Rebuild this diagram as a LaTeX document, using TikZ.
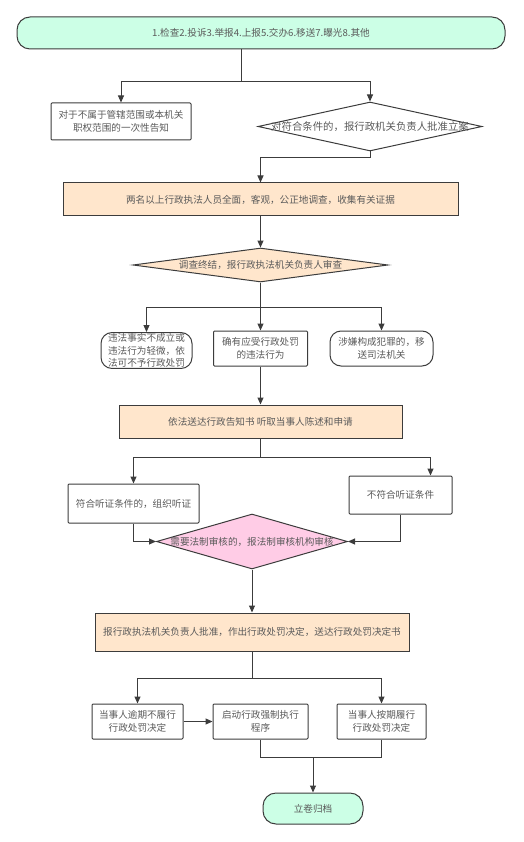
\documentclass[tikz,border=0pt]{standalone}
\usepackage{fontspec}
\setmainfont{Noto Sans CJK SC}
\usetikzlibrary{shapes.geometric,arrows.meta}
\definecolor{mint}{RGB}{204,255,230}
\definecolor{peach}{RGB}{255,230,204}
\definecolor{pinkfill}{RGB}{255,204,230}
\definecolor{edge}{RGB}{60,60,60}
\definecolor{txt}{RGB}{90,90,90}

\begin{document}
\begin{tikzpicture}[x=1pt, y=-1pt, >={Triangle[length=7pt,width=6pt]}, line width=1pt, draw=edge,
    every node/.style={font=\fontsize{9.6}{12.5}\selectfont, text=txt, align=center, inner sep=1pt},
    dims/.style 2 args={minimum width=#1pt, minimum height=#2pt},
    terminal/.style={draw, fill=mint, rounded corners=13pt},
    process/.style={draw, fill=peach},
    plain/.style={draw, fill=white, rounded corners=1pt},
    soft/.style={draw, fill=white, rounded corners=11pt},
    decision/.style={draw, diamond, inner sep=0pt}]
    \useasboundingbox (0,0) rectangle (523,842);

    % Sources of a case
    \node[terminal, dims={488}{32}] (src) at (261,33) {1.检查2.投诉3.举报4.上报5.交办6.移送7.曝光8.其他};
    % Outside jurisdiction
    \node[plain, dims={140}{37}] (notice) at (121,121.5) {对于不属于管辖范围或本机关\\职权范围的一次性告知};
    % Filing a case
    \node[decision, dims={224}{49}, font=\fontsize{10.4}{12}\selectfont] (approve) at (370,126.5) {\makebox[0pt]{对符合条件的，报行政机关负责人批准立案}};
    % Investigation
    \node[process, dims={395}{33}] (invest) at (260.5,199.5) {两名以上行政执法人员全面，客观，公正地调查，收集有关证据};
    % Review after investigation
    \node[decision, fill=peach, dims={255}{34}] (review) at (260.5,265) {\makebox[0pt]{调查终结，报行政执法机关负责人审查}};
    % Three outcomes
    \node[soft, dims={91}{35}] (nopen) at (146.5,350.5) {违法事实不成立或\\违法行为轻微，依\\法可不予行政处罚};
    \node[plain, dims={94}{35}] (pen) at (260.5,348.5) {确有应受行政处罚\\的违法行为};
    \node[soft, dims={103}{35}] (crime) at (381.5,348.5) {涉嫌构成犯罪的，移\\送司法机关};
    % Notification
    \node[process, dims={283}{33}] (inform) at (260.5,421.5) {依法送达行政告知书 听取当事人陈述和申请};
    % Hearing or not
    \node[plain, dims={131}{39}] (hear) at (133.5,503.5) {符合听证条件的，组织听证};
    \node[plain, dims={103}{38}] (nohear) at (400.5,495) {不符合听证条件};
    % Legal review
    \node[decision, fill=pinkfill, dims={191}{55}] (legal) at (252,541.5) {\makebox[0pt]{需要法制审核的，报法制审核机构审核}};
    % Decision
    \node[process, dims={314}{38}] (decide) at (252,632) {报行政执法机关负责人批准，作出行政处罚决定，送达行政处罚决定书};
    % Execution
    \node[plain, dims={91}{35}] (overdue) at (137.5,721.5) {当事人逾期不履行\\行政处罚决定};
    \node[plain, dims={95}{35}] (enforce) at (260.5,721.5) {启动行政强制执行\\程序};
    \node[plain, dims={89}{35}] (ontime) at (381.5,721.5) {当事人按期履行\\行政处罚决定};
    % Archiving
    \node[terminal, dims={100}{31}] (archive) at (313,808.5) {立卷归档};

    % Junctions
    \coordinate (j1) at (241,82);
    \coordinate (j2) at (260.5,158);
    \coordinate (j3) at (260.5,307);
    \coordinate (j4) at (260.5,457);
    \coordinate (j5) at (252,678);
    \coordinate (j6) at (313,757);

    % Connectors
    \draw (j1 |- src.south) -- (j1);
    \draw[->] (j1) -| (notice);
    \draw[->] (j1) -| (approve);
    \draw[->] (approve.south) |- (j2) -- (invest);
    \draw[->] (invest) -- (review);
    \draw (review.south) -- (j3);
    \draw[->] (j3) -| (nopen);
    \draw[->] (j3) -- (pen);
    \draw[->] (j3) -| (crime);
    \draw[->] (pen) -- (inform);
    \draw (inform.south) -- (j4);
    \draw[->] (j4) -| (hear);
    \draw[->] (j4) -| ([xshift=30pt]nohear.north);
    \draw[->] (hear.south) |- (legal);
    \draw[->] (nohear.south) |- (legal);
    \draw[->] (legal) -- (decide);
    \draw (decide.south) -- (j5);
    \draw[->] (j5) -| (overdue);
    \draw[->] (j5) -| (ontime);
    \draw[->] (overdue) -- (enforce);
    \draw (enforce.south) |- (j6);
    \draw (ontime.south) |- (j6);
    \draw[->] (j6) -- (archive);
\end{tikzpicture}
\end{document}
